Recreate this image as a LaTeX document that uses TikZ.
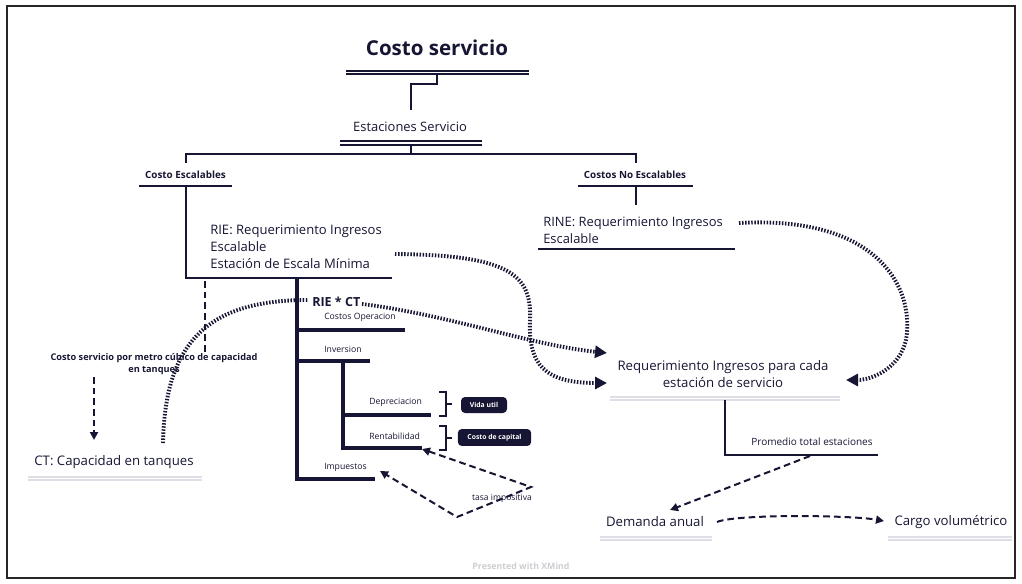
\documentclass[tikz,border=0pt]{standalone}
\usepackage{fontspec}
\setmainfont{Open Sans}
\usetikzlibrary{arrows.meta}
\definecolor{navy}{RGB}{22,22,52}
\definecolor{faint}{RGB}{222,222,230}
\definecolor{wm}{RGB}{205,205,210}
\newcommand{\fs}[1]{\fontsize{#1pt}{\dimexpr #1pt*13/10\relax}\selectfont}
\begin{document}
\begin{tikzpicture}[x=0.75pt,y=-0.75pt,
  txt/.style={inner sep=0pt, text=navy},
  thin/.style={draw=navy, line width=1.5pt},
  thick/.style={draw=navy, line width=2.6pt},
  fline/.style={draw=faint, line width=1.2pt},
  dotline/.style={draw=navy, line width=2.9pt, dash pattern=on 1.1pt off 1.2pt},
  dashline/.style={draw=navy, line width=1.5pt, dash pattern=on 5pt off 3pt},
  bigtip/.style={-{Triangle[length=9pt,width=9pt]}},
  smalltip/.style={-{Triangle[length=6pt,width=6pt]}},
  tag/.style={fill=navy, rounded corners=3pt, text=white, font=\bfseries\fs{5.1}, inner sep=0pt}
]
\useasboundingbox (0,0) rectangle (1022,583);
\draw[line width=1.2pt, draw=black!85] (7,6) rectangle (1015,578);

% ---------- tree structure ----------
\node[txt, anchor=base, font=\bfseries\fs{15.4}] (title) at (437,55) {Costo servicio};
\draw[thin] (346,70.5) -- (529,70.5) (346,74) -- (529,74);
\coordinate (t1) at (437,74);
\coordinate (es0) at (411,110);
\draw[thin] (t1) -- (437,84) -| (es0);

\node[txt, anchor=base, font=\fs{9.7}] (est) at (410,131.5) {Estaciones Servicio};
\draw[thin] (340,141) -- (482,141) (340,144.5) -- (482,144.5);
\coordinate (e1) at (411,144.5);
\coordinate (ceTop) at (186,163);
\coordinate (cnTop) at (636,163);
\draw[thin] (e1) -- (411,154);
\draw[thin] (ceTop) -- (186,154) -- (636,154) -- (cnTop);

\node[txt, anchor=base, font=\bfseries\fs{7.4}] (ce) at (185.5,178.3) {Costo Escalables};
\draw[thin] (139,186) -- (232,186);
\node[txt, anchor=base, font=\bfseries\fs{7.4}] (cn) at (635,178.3) {Costos No Escalables};
\draw[thin] (578,186) -- (693,186);

\coordinate (rieL) at (186,186);
\coordinate (rieR) at (392,277.5);
\draw[thin] (rieL) |- (rieR);
\node[txt, anchor=west, align=left, font=\fs{9.8}] (rie) at (210,247)
  {RIE: Requerimiento Ingresos\\Escalable\\Estación de Escala Mínima};

\coordinate (rn0) at (636,186);
\coordinate (rn1) at (636,205);
\draw[thin] (rn0) -- (rn1);
\node[txt, anchor=west, align=left, font=\fs{9.7}] (rine) at (543,230)
  {RINE: Requerimiento Ingresos\\Escalable};
\draw[thin] (538,249) -- (735,249);

% thick sub-tree
\coordinate (k0) at (297,277.5);
\coordinate (k1) at (297,479);
\draw[thick] (k0) -- (k1) -- (375,479);
\draw[thick] (297,330) -- (405,330);
\draw[thick] (297,361) -- (370,361);
\coordinate (i0) at (343,361);
\coordinate (i1) at (343,448);
\draw[thick] (i0) -- (i1) -- (422,448);
\draw[thick] (343,415) -- (431,415);

\node[txt, anchor=base west, font=\bfseries\fs{9.4}] (rct) at (312,306.5) {RIE * CT};
\node[txt, anchor=west, font=\fs{6.5}] (cop) at (324,317) {Costos Operacion};
\node[txt, anchor=west, font=\fs{6.5}] (inv) at (324,349) {Inversion};
\node[txt, anchor=west, font=\fs{6.5}] (dep) at (369,402) {Depreciacion};
\node[txt, anchor=west, font=\fs{6.5}] (ren) at (369,436) {Rentabilidad};
\node[txt, anchor=west, font=\fs{6.5}] (imp) at (324,467) {Impuestos};

% brackets and tags
\draw[thin] (439,392) -- (446,392) -- (446,416) -- (439,416) (446,404) -- (452,404);
\draw[thin] (439,426) -- (446,426) -- (446,450) -- (439,450) (446,438) -- (452,438);
\node[tag, minimum width=34.5pt, minimum height=12pt] (vida) at (484,405) {Vida util};
\node[tag, minimum width=55pt, minimum height=12.7pt] (capital) at (494.5,437.5) {Costo de capital};

% ---------- other topics ----------
\node[txt, align=center, font=\bfseries\fs{6.9}] (csm) at (154,364.5)
  {Costo servicio por metro cúbico de capacidad\\en tanques};
\node[txt, font=\fs{9.9}] (ct) at (114,462) {CT: Capacidad en tanques};
\draw[fline] (28,477) -- (202,477) (28,480) -- (202,480);

\node[txt, align=center, font=\fs{9.9}] (req) at (723,374)
  {Requerimiento Ingresos para cada\\estación de servicio};
\draw[fline] (610,397) -- (840,397) (610,400) -- (840,400);
\coordinate (rq0) at (725,400);
\coordinate (rq1) at (878,455);
\draw[thin] (rq0) |- (rq1);
\node[txt, font=\fs{7.5}] (prom) at (812,442) {Promedio total estaciones};

\node[txt, font=\fs{9.9}] (dem) at (655,522) {Demanda anual};
\draw[fline] (600,537) -- (712,537) (600,540) -- (712,540);
\node[txt, font=\fs{9.9}] (cargo) at (951,522) {Cargo volumétrico};
\draw[fline] (888,537) -- (1012,537) (888,540) -- (1012,540);

\node[txt, font=\fs{6.4}] (tasa) at (502,498) {tasa impositiva};
\node[inner sep=0pt, text=wm, font=\bfseries\fs{6.6}] (xm) at (521,566) {Presented with XMind};

% ---------- relationships ----------
% dotted
\coordinate (a1s) at (395,254);
\coordinate (a1e) at (607,383);
\draw[dotline, bigtip] (a1s) .. controls (510,255) and (532,275) .. (530,320)
   .. controls (528,365) and (545,383) .. (a1e);
\coordinate (a2s) at (362,304);
\coordinate (a2e) at (607,353);
\draw[dotline, bigtip] (a2s) .. controls (450,315) and (530,345) .. (a2e);
\coordinate (a3s) at (163,443);
\coordinate (a3e) at (308,300);
\draw[dotline] (a3s) .. controls (165,340) and (210,300) .. (a3e);
\coordinate (a4s) at (739,223);
\coordinate (a4e) at (846,380);
\draw[dotline, bigtip] (a4s) .. controls (880,215) and (915,290) .. (906,340)
   .. controls (899,370) and (870,380) .. (a4e);

% dashed
\coordinate (d1s) at (205,281);
\coordinate (d1m) at (205,352);
\draw[dashline] (d1s) -- (d1m);
\coordinate (d2s) at (94,377);
\coordinate (d2e) at (94,440);
\draw[dashline, smalltip] (d2s) -- (d2e);

\coordinate (p0) at (810,456);
\coordinate (p1) at (670,510);
\draw[dashline, smalltip] (p0) -- (p1);
\coordinate (q0) at (717,522);
\coordinate (q1) at (884,521);
\draw[dashline, smalltip] (q0) .. controls (735,514) and (850,515) .. (q1);

\coordinate (r0) at (422,449);
\coordinate (r1) at (531,487);
\coordinate (r2) at (457,517);
\coordinate (r3) at (380,471);
\draw[dashline, {Triangle[length=6pt,width=6pt]}-{Triangle[length=6pt,width=6pt]}] (r0) -- (r1) -- (r2) -- (r3);
\end{tikzpicture}
\end{document}
